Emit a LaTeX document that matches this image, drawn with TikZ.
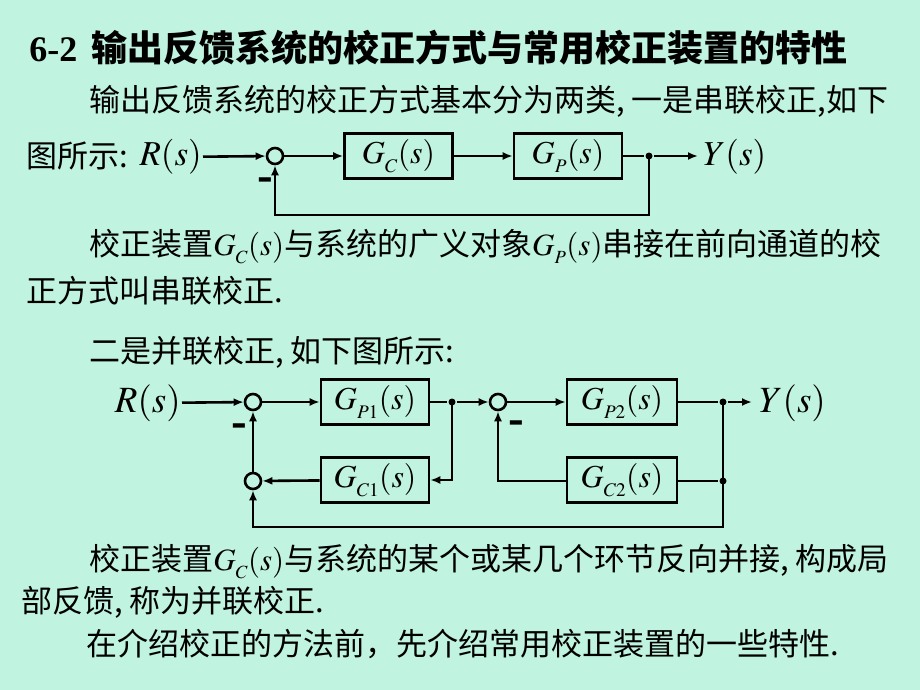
\documentclass[tikz,border=0pt]{standalone}
\usepackage{mathptmx}
\usepackage[no-math]{fontspec}
\setmainfont{Noto Sans CJK SC}
\newfontfamily\tms{Liberation Serif}
\usetikzlibrary{arrows.meta}
\definecolor{bg}{RGB}{192,243,224}
\newcommand\sub[1]{\lower0.12em\hbox{$\scriptscriptstyle #1$}}
\tikzset{
  txt/.style={anchor=base west, inner sep=0, font=\fontsize{31}{36}\selectfont},
  ttl/.style={anchor=base west, inner sep=0, font=\bfseries\fontsize{36}{40}\selectfont},
  blk/.style={draw, line width=2.6pt, minimum width=108pt, minimum height=45pt, inner sep=0, font=\fontsize{32}{38}\selectfont},
  sumpt/.style={circle, draw, line width=2.6pt, minimum size=16pt, inner sep=0},
  dotpt/.style={circle, fill, minimum size=7pt, inner sep=0},
  sig/.style={inner sep=0, font=\fontsize{35}{40}\selectfont},
  sigb/.style={inner sep=0, font=\fontsize{37}{42}\selectfont},
  minus/.style={inner sep=0, font=\tms\bfseries\fontsize{26}{30}\selectfont},
  wire/.style={draw, line width=2.6pt},
  arr/.style={wire, -{Latex[length=10pt,width=8pt]}}
}
\begin{document}
\begin{tikzpicture}[x=1pt,y=-1pt,line width=2.6pt]
\fill[bg] (0,0) rectangle (920,690);
\useasboundingbox (0,0) rectangle (920,690);

% texts
\node[ttl] (title) at (28,62) {{\tms 6-2}\hspace{0.4em}输出反馈系统的校正方式与常用校正装置的特性};
\node[txt] (l2) at (88,112) {输出反馈系统的校正方式基本分为两类, 一是串联校正,如下};
\node[txt] (l3) at (25,167) {图所示:};
\node[txt] (l4) at (88,255) {校正装置$G_{\sub C}(s)$与系统的广义对象$G_{\sub P}(s)$串接在前向通道的校};
\node[txt] (l5) at (25,302) {正方式叫串联校正.};
\node[txt] (l6) at (88,362) {二是并联校正, 如下图所示:};
\node[txt] (l7) at (88,570) {校正装置$G_{\sub C}(s)$与系统的某个或某几个环节反向并接, 构成局};
\node[txt] (l8) at (20,612) {部反馈, 称为并联校正.};
\node[txt] (l9) at (85,655) {在介绍校正的方法前，先介绍常用校正装置的一些特性.};

% diagram 1
\node[sig, anchor=east] (R1) at (203,157) {$R(s)$};
\node[sumpt] (c1) at (275,156) {};
\node[blk] (gc) at (398.5,156) {$G_{\sub C}(s)$};
\node[blk] (gp) at (568,156) {$G_{\sub P}(s)$};
\node[dotpt] (d1) at (649,156) {};
\node[sig, anchor=west] (Y1) at (702,157) {$Y(s)$};
\coordinate (b1) at (462,215);
\node[minus] (m1) at (265,186) {\scalebox{0.9}[2.4]{–}};

\path[arr] (R1) -- (c1);
\path[arr] (c1) -- (gc);
\path[arr] (gc) -- (gp);
\path[wire] (gp) -- (d1);
\path[arr, shorten >=4pt] (d1) -- (Y1.west |- d1);
\path[arr] (d1.center) |- (b1) -| (c1);

% diagram 2
\node[sigb, anchor=east] (R2) at (182,403) {$R(s)$};
\node[sumpt] (s1) at (253,402) {};
\node[blk] (p1) at (375,402) {$G_{\sub{P1}}(s)$};
\node[dotpt] (d2) at (452,402) {};
\node[sumpt] (s2) at (498,402) {};
\node[blk, minimum width=110pt] (p2) at (622,402) {$G_{\sub{P2}}(s)$};
\node[dotpt] (d3) at (723,402) {};
\node[sigb, anchor=west] (Y2) at (758,403) {$Y(s)$};
\node[blk] (c1b) at (375,480) {$G_{\sub{C1}}(s)$};
\node[sumpt] (s3) at (253,481) {};
\node[blk, minimum width=110pt] (c2b) at (622,480) {$G_{\sub{C2}}(s)$};
\node[dotpt] (d4) at (723,481) {};
\coordinate (b2) at (490,527);
\node[minus] (m2) at (239,432) {\scalebox{0.9}[2.4]{–}};
\node[minus] (m3) at (516,429) {\scalebox{0.9}[2.4]{–}};

\path[arr] (R2) -- (s1);
\path[arr] (s1) -- (p1);
\path[wire] (p1) -- (d2);
\path[arr] (d2) -- (s2);
\path[arr] (s2) -- (p2);
\path[wire] (p2) -- (d3);
\path[arr, shorten >=6pt] (d3) -- (Y2.west |- d3);
\path[arr] (d2.center) |- (c1b.east);
\path[arr] (c1b) -- (s3);
\path[arr] (s3) -- (s1);
\path[wire] (d3.center) -- (d4.center);
\path[wire] (d4) -- (c2b.east |- d4);
\path[arr] (c2b.west |- d4) -| (s2);
\path[arr] (d4.center) |- (b2) -| (s3);
\end{tikzpicture}
\end{document}
